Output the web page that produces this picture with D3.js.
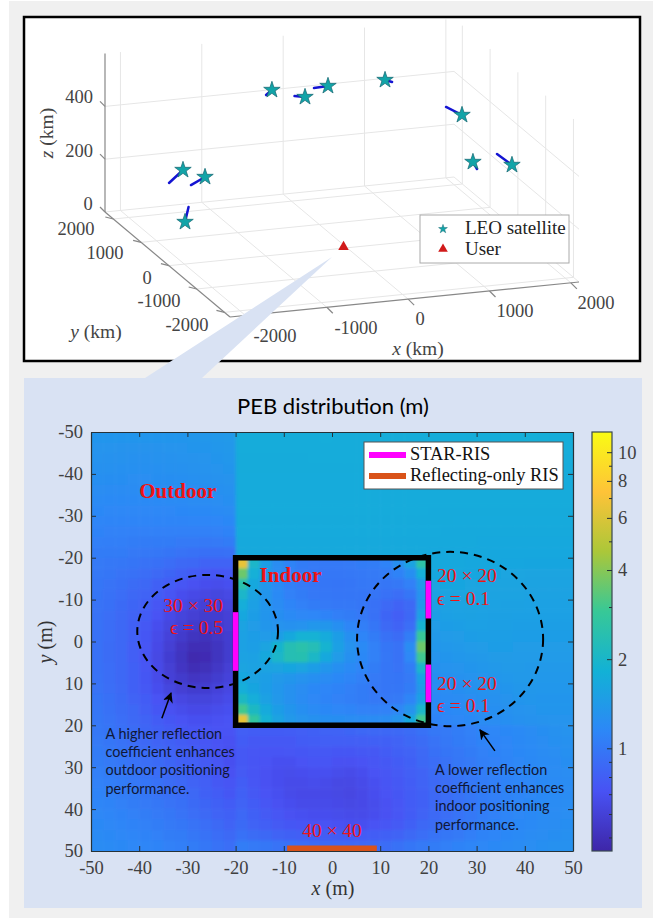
<!DOCTYPE html>
<html>
<head>
<meta charset="utf-8">
<script src="https://cdnjs.cloudflare.com/ajax/libs/d3/7.8.5/d3.min.js"></script>
<style>
body{margin:0;background:#fff;}
svg{display:block;}
.serif{font-family:"Liberation Serif",serif;}
.sans{font-family:Lato,"Open Sans",sans-serif;}
</style>
</head>
<body>
<svg width="670" height="918"></svg>
<script>
// ---- 3D scatter data (km) ----
var satX=[-1820,-1497,-1787,-315,60,353,1161,1618,1814,2100];
var satY=[576,729,599,1782,1689,1720,2033,600,780,213];
var satZ=[300,250,100,450,420,450,420,400,200,230];
var trailX=[-2074,-1722,-1725,-411,-42,173,1212,1547,1801,2044];
var trailY=[335,576,654,1712,1768,1697,1929,968,596,588];
var trailZ=[280,240,150,440,420,450,420,400,190,240];
var userPos=[-40,10,0];
var ticks3dXY=[-2000,-1000,0,1000,2000];
var ticks3dZ=[0,200,400];
var legend3d=["LEO satellite","User"];

// ---- PEB heat map, rows y=-48.75..48.75, columns x=-48.75..48.75, 2.5 m cells ----
var pebRows=[
[1.34,1.34,1.33,1.33,1.33,1.33,1.34,1.34,1.35,1.36,1.38,1.40,1.72,1.72,1.72,1.72,1.72,1.72,1.72,1.73,1.72,1.72,1.72,1.72,1.73,1.73,1.73,1.73,1.73,1.73,1.73,1.74,1.74,1.74,1.75,1.76,1.78,1.76,1.74,1.74],
[1.32,1.32,1.31,1.31,1.31,1.31,1.32,1.32,1.33,1.34,1.36,1.38,1.72,1.72,1.72,1.72,1.72,1.72,1.72,1.72,1.72,1.72,1.72,1.72,1.72,1.73,1.73,1.73,1.73,1.73,1.73,1.73,1.73,1.73,1.74,1.74,1.75,1.74,1.73,1.73],
[1.30,1.29,1.29,1.28,1.28,1.29,1.29,1.30,1.31,1.32,1.34,1.36,1.71,1.71,1.71,1.71,1.71,1.71,1.72,1.72,1.72,1.72,1.72,1.72,1.72,1.72,1.72,1.72,1.72,1.72,1.72,1.72,1.72,1.72,1.72,1.72,1.72,1.72,1.72,1.72],
[1.27,1.27,1.26,1.26,1.26,1.26,1.27,1.28,1.29,1.30,1.32,1.34,1.71,1.71,1.71,1.71,1.71,1.71,1.71,1.71,1.71,1.71,1.71,1.71,1.71,1.71,1.71,1.71,1.71,1.71,1.71,1.71,1.71,1.71,1.71,1.71,1.71,1.71,1.71,1.71],
[1.25,1.24,1.24,1.23,1.23,1.24,1.24,1.25,1.26,1.27,1.29,1.31,1.70,1.70,1.70,1.70,1.70,1.70,1.70,1.70,1.70,1.70,1.70,1.70,1.70,1.70,1.70,1.70,1.70,1.70,1.70,1.70,1.70,1.70,1.70,1.70,1.70,1.70,1.70,1.70],
[1.22,1.21,1.21,1.20,1.21,1.21,1.22,1.22,1.23,1.24,1.26,1.28,1.70,1.70,1.70,1.70,1.70,1.70,1.70,1.70,1.70,1.70,1.70,1.70,1.70,1.70,1.70,1.70,1.70,1.70,1.70,1.70,1.70,1.70,1.70,1.70,1.70,1.70,1.70,1.70],
[1.19,1.18,1.18,1.18,1.18,1.18,1.19,1.19,1.20,1.21,1.23,1.25,1.70,1.70,1.70,1.70,1.70,1.70,1.70,1.70,1.70,1.70,1.70,1.70,1.70,1.70,1.70,1.70,1.70,1.70,1.70,1.70,1.70,1.70,1.70,1.70,1.70,1.70,1.70,1.70],
[1.16,1.15,1.15,1.15,1.15,1.15,1.15,1.16,1.17,1.17,1.19,1.21,1.70,1.70,1.70,1.70,1.70,1.70,1.70,1.70,1.70,1.70,1.70,1.70,1.70,1.70,1.70,1.70,1.69,1.69,1.69,1.69,1.69,1.69,1.69,1.69,1.69,1.69,1.69,1.69],
[1.13,1.12,1.12,1.12,1.12,1.12,1.12,1.12,1.13,1.13,1.14,1.16,1.69,1.69,1.69,1.69,1.69,1.69,1.69,1.69,1.69,1.69,1.69,1.69,1.69,1.69,1.69,1.69,1.69,1.69,1.68,1.68,1.68,1.68,1.68,1.68,1.68,1.68,1.68,1.68],
[1.10,1.09,1.09,1.08,1.08,1.08,1.08,1.08,1.08,1.08,1.09,1.10,1.68,1.68,1.68,1.68,1.68,1.68,1.68,1.68,1.68,1.68,1.68,1.68,1.68,1.68,1.68,1.68,1.68,1.67,1.67,1.67,1.67,1.66,1.66,1.66,1.66,1.66,1.66,1.66],
[1.07,1.06,1.06,1.05,1.04,1.03,1.03,1.02,1.02,1.01,1.02,1.03,1.67,1.67,1.67,1.67,1.67,1.67,1.67,1.67,1.67,1.67,1.67,1.67,1.67,1.67,1.67,1.67,1.66,1.66,1.66,1.66,1.65,1.65,1.65,1.64,1.64,1.64,1.64,1.64],
[1.04,1.03,1.03,1.01,1.00,0.99,0.97,0.96,0.94,0.93,0.93,0.94,1.66,1.66,1.66,1.66,1.66,1.66,1.66,1.66,1.66,1.66,1.66,1.66,1.66,1.66,1.66,1.66,1.65,1.65,1.65,1.64,1.64,1.63,1.63,1.63,1.62,1.62,1.62,1.62],
[1.02,1.00,0.99,0.97,0.95,0.93,0.91,0.88,0.86,0.84,0.83,0.84,6.5,2.0,1.45,1.22,1.10,1.04,1.02,1.01,1.01,1.02,1.03,1.05,1.10,1.25,1.55,2.6,1.66,1.65,1.64,1.63,1.62,1.62,1.61,1.61,1.60,1.60,1.60,1.60],
[1.00,0.98,0.96,0.94,0.91,0.88,0.85,0.81,0.78,0.76,0.75,0.76,3.6,1.8,1.40,1.20,1.08,1.02,1.00,0.99,0.99,1.00,1.01,1.02,1.04,1.10,1.25,1.8,1.62,1.62,1.62,1.61,1.60,1.60,1.59,1.59,1.58,1.58,1.58,1.58],
[0.98,0.96,0.93,0.90,0.86,0.82,0.78,0.74,0.71,0.69,0.68,0.70,2.5,1.65,1.36,1.18,1.06,1.01,0.99,0.98,0.97,0.98,1.00,1.00,0.98,1.00,1.08,1.4,1.58,1.60,1.60,1.59,1.58,1.58,1.57,1.57,1.56,1.56,1.56,1.56],
[0.97,0.94,0.91,0.87,0.83,0.78,0.73,0.69,0.66,0.64,0.63,0.65,2.0,1.55,1.34,1.18,1.08,1.03,1.00,0.99,0.98,0.98,0.98,0.97,0.94,0.92,0.98,1.3,1.54,1.56,1.58,1.57,1.56,1.56,1.55,1.55,1.54,1.54,1.54,1.54],
[0.96,0.93,0.89,0.85,0.80,0.74,0.69,0.65,0.62,0.60,0.60,0.62,1.75,1.5,1.33,1.2,1.12,1.08,1.04,1.02,1.00,1.00,0.98,0.94,0.88,0.84,0.88,1.35,1.50,1.53,1.55,1.55,1.54,1.54,1.53,1.53,1.52,1.52,1.52,1.52],
[0.95,0.92,0.88,0.83,0.78,0.72,0.66,0.62,0.59,0.57,0.58,0.60,1.62,1.46,1.34,1.24,1.18,1.15,1.14,1.10,1.06,1.03,1.00,0.94,0.85,0.80,0.86,1.5,1.47,1.50,1.52,1.53,1.52,1.51,1.51,1.50,1.50,1.50,1.50,1.50],
[0.95,0.91,0.87,0.82,0.76,0.69,0.63,0.59,0.56,0.55,0.56,0.59,1.55,1.44,1.35,1.30,1.28,1.30,1.36,1.35,1.25,1.13,1.06,0.98,0.88,0.83,0.92,1.9,1.44,1.46,1.48,1.50,1.50,1.49,1.49,1.48,1.48,1.48,1.48,1.48],
[0.94,0.91,0.86,0.81,0.75,0.67,0.61,0.56,0.52,0.51,0.54,0.58,1.52,1.46,1.42,1.48,1.65,1.85,1.85,1.70,1.45,1.25,1.12,1.04,0.94,0.90,1.05,2.9,1.40,1.42,1.44,1.46,1.48,1.47,1.47,1.46,1.46,1.46,1.46,1.46],
[0.94,0.90,0.86,0.80,0.74,0.66,0.59,0.53,0.49,0.49,0.52,0.57,1.52,1.48,1.58,1.95,2.35,2.5,2.3,1.9,1.5,1.3,1.18,1.08,0.98,0.95,1.2,3.6,1.36,1.38,1.40,1.42,1.44,1.45,1.45,1.44,1.44,1.44,1.44,1.44],
[0.94,0.90,0.86,0.80,0.73,0.65,0.58,0.52,0.47,0.48,0.52,0.57,1.54,1.52,1.65,2.0,2.35,2.4,2.05,1.65,1.42,1.26,1.16,1.08,0.99,0.95,1.15,3.0,1.32,1.34,1.36,1.38,1.40,1.43,1.43,1.42,1.42,1.42,1.42,1.42],
[0.94,0.91,0.86,0.81,0.74,0.66,0.59,0.53,0.49,0.50,0.54,0.59,1.58,1.54,1.55,1.58,1.6,1.58,1.45,1.35,1.25,1.18,1.12,1.05,0.98,0.96,1.05,2.0,1.28,1.30,1.32,1.34,1.36,1.39,1.41,1.41,1.40,1.40,1.40,1.40],
[0.95,0.91,0.87,0.81,0.75,0.67,0.60,0.56,0.53,0.54,0.57,0.61,1.62,1.55,1.48,1.40,1.35,1.30,1.25,1.2,1.16,1.12,1.07,1.02,0.98,0.97,1.02,1.5,1.24,1.26,1.28,1.30,1.32,1.35,1.38,1.39,1.39,1.38,1.38,1.38],
[0.96,0.92,0.88,0.82,0.76,0.69,0.63,0.59,0.57,0.58,0.61,0.64,1.75,1.6,1.46,1.36,1.28,1.22,1.16,1.13,1.1,1.07,1.04,1.0,0.98,0.98,1.04,1.4,1.20,1.22,1.24,1.27,1.29,1.31,1.34,1.37,1.37,1.36,1.36,1.36],
[0.97,0.93,0.89,0.84,0.78,0.72,0.67,0.64,0.62,0.62,0.64,0.67,2.1,1.75,1.52,1.38,1.28,1.2,1.15,1.11,1.09,1.06,1.03,1.01,1.0,1.02,1.12,1.5,1.17,1.19,1.21,1.23,1.26,1.28,1.31,1.33,1.35,1.34,1.34,1.34],
[0.98,0.94,0.90,0.86,0.80,0.75,0.71,0.68,0.66,0.66,0.68,0.70,3.0,2.1,1.68,1.46,1.34,1.25,1.19,1.16,1.14,1.12,1.09,1.08,1.09,1.15,1.32,2.0,1.14,1.16,1.18,1.20,1.23,1.25,1.28,1.30,1.32,1.33,1.33,1.33],
[0.99,0.96,0.92,0.88,0.83,0.78,0.75,0.72,0.70,0.70,0.71,0.72,6.5,2.7,1.85,1.55,1.4,1.32,1.27,1.25,1.24,1.22,1.2,1.2,1.22,1.32,1.65,3.0,1.10,1.13,1.15,1.17,1.20,1.22,1.25,1.27,1.29,1.31,1.32,1.32],
[1.00,0.97,0.93,0.90,0.85,0.81,0.78,0.75,0.73,0.73,0.72,0.72,0.80,0.79,0.78,0.78,0.79,0.80,0.82,0.83,0.84,0.85,0.86,0.86,0.87,0.88,0.90,0.94,1.00,1.02,1.05,1.08,1.12,1.14,1.16,1.18,1.20,1.24,1.28,1.30],
[1.02,0.98,0.95,0.91,0.87,0.84,0.81,0.78,0.76,0.74,0.72,0.71,0.78,0.76,0.76,0.76,0.76,0.78,0.79,0.80,0.80,0.80,0.80,0.81,0.82,0.84,0.86,0.90,0.96,1.00,1.03,1.06,1.10,1.12,1.14,1.17,1.19,1.22,1.26,1.28],
[1.03,1.00,0.97,0.93,0.90,0.86,0.83,0.80,0.78,0.75,0.72,0.70,0.76,0.74,0.73,0.73,0.74,0.75,0.76,0.76,0.75,0.75,0.76,0.76,0.78,0.81,0.84,0.88,0.93,0.97,1.00,1.04,1.08,1.10,1.13,1.16,1.18,1.20,1.23,1.26],
[1.05,1.02,0.99,0.95,0.92,0.89,0.85,0.82,0.80,0.77,0.74,0.70,0.76,0.73,0.72,0.70,0.70,0.72,0.73,0.73,0.71,0.71,0.72,0.74,0.76,0.78,0.82,0.86,0.91,0.95,0.99,1.02,1.06,1.09,1.12,1.15,1.17,1.19,1.21,1.24],
[1.07,1.04,1.01,0.98,0.94,0.91,0.88,0.85,0.81,0.78,0.75,0.71,0.77,0.73,0.71,0.69,0.68,0.69,0.70,0.70,0.68,0.67,0.69,0.72,0.74,0.77,0.80,0.84,0.89,0.93,0.97,1.01,1.05,1.08,1.11,1.14,1.16,1.18,1.20,1.22],
[1.09,1.06,1.03,1.00,0.97,0.94,0.90,0.87,0.83,0.80,0.76,0.73,0.79,0.74,0.71,0.69,0.67,0.67,0.68,0.67,0.65,0.65,0.67,0.70,0.73,0.76,0.79,0.83,0.88,0.92,0.96,1.00,1.04,1.07,1.10,1.13,1.15,1.17,1.19,1.21],
[1.11,1.08,1.05,1.03,0.99,0.96,0.93,0.90,0.86,0.82,0.78,0.75,0.81,0.76,0.72,0.70,0.67,0.66,0.66,0.66,0.65,0.64,0.66,0.69,0.72,0.75,0.78,0.82,0.87,0.91,0.95,0.99,1.03,1.07,1.10,1.13,1.15,1.17,1.19,1.21],
[1.13,1.11,1.08,1.05,1.02,0.99,0.96,0.93,0.89,0.85,0.81,0.78,0.83,0.78,0.74,0.71,0.69,0.67,0.67,0.67,0.66,0.65,0.66,0.68,0.71,0.74,0.78,0.82,0.87,0.91,0.95,0.99,1.04,1.07,1.11,1.14,1.16,1.18,1.20,1.22],
[1.15,1.13,1.10,1.08,1.05,1.02,0.99,0.96,0.92,0.88,0.84,0.81,0.86,0.81,0.77,0.74,0.71,0.70,0.69,0.69,0.68,0.67,0.67,0.69,0.71,0.74,0.78,0.83,0.88,0.92,0.96,1.00,1.05,1.08,1.12,1.15,1.17,1.19,1.21,1.23],
[1.17,1.15,1.13,1.10,1.08,1.05,1.02,0.99,0.96,0.92,0.88,0.84,0.89,0.84,0.80,0.77,0.75,0.73,0.72,0.72,0.71,0.70,0.70,0.72,0.74,0.77,0.81,0.86,0.90,0.94,0.98,1.02,1.06,1.10,1.13,1.16,1.18,1.20,1.22,1.24],
[1.19,1.17,1.15,1.13,1.10,1.08,1.05,1.03,0.99,0.95,0.91,0.88,0.94,0.90,0.87,0.84,0.82,0.80,0.79,0.79,0.78,0.77,0.78,0.79,0.81,0.84,0.88,0.92,0.96,0.99,1.02,1.06,1.10,1.13,1.16,1.18,1.20,1.22,1.24,1.26],
[1.21,1.19,1.17,1.15,1.13,1.11,1.08,1.06,1.03,0.99,0.95,0.92,1.05,1.02,0.99,0.96,0.94,0.92,0.90,0.89,0.88,0.88,0.88,0.89,0.91,0.94,0.98,1.02,1.04,1.07,1.10,1.13,1.15,1.17,1.19,1.21,1.23,1.25,1.27,1.28]
];
var heatTicks=[-50,-40,-30,-20,-10,0,10,20,30,40,50];
var cbMajor=[1,2,4,6,8,10];
var cbMinor=[0.5,0.6,0.7,0.8,0.9,3,5,7,9];
var parula=["#3e26a8","#4852f4","#2d87f7","#12b1d6","#37c897","#abc739","#fec338","#f9fb14"];
var roomX=[-20,20,20,-20];
var roomY=[-20,-20,20,20];
var starRisLeft=[-7,7];
var starRisRight=[[-14.5,-5.5],[5.5,14.5]];
var reflectRis=[-9.3,9.3];
var noteLeft=["A higher reflection","coefficient enhances","outdoor positioning","performance."];
var noteRight=["A lower reflection","coefficient enhances","indoor positioning","performance."];

var svg=d3.select("svg");

// page panels
svg.append("rect").attr("x",9).attr("y",1).attr("width",644).attr("height",917).attr("fill","#f0f0f0");
svg.append("rect").attr("x",24).attr("y",17).attr("width",616).attr("height",344)
   .attr("fill","#fff").attr("stroke","#000").attr("stroke-width",2.5);
svg.append("rect").attr("x",24).attr("y",378).attr("width",618).attr("height",530).attr("fill","#d9e2f3");

//////////// 3D plot ////////////
var xLim=[-2190,2100], yLim=[-2200,2300], zLim=[0,600];
var floorFront=[230,317];
var xSx=d3.scaleLinear().domain(xLim).range([0,349]);
var xSy=d3.scaleLinear().domain(xLim).range([0,-35]);
var ySx=d3.scaleLinear().domain(yLim).range([0,-125]);
var ySy=d3.scaleLinear().domain(yLim).range([0,-105]);
var zS=d3.scaleLinear().domain(zLim).range([0,-158.4]);
var proj=function(x,y,z)
{
  return [floorFront[0]+xSx(x)+ySx(y),floorFront[1]+xSy(x)+ySy(y)+zS(z)];
};
var line3=d3.line();
var plot3=svg.append("g").classed("plot3",true);

var grid3=[];
ticks3dXY.forEach(function(t){
  grid3.push([proj(t,yLim[0],0),proj(t,yLim[1],0)]);
  grid3.push([proj(xLim[0],t,0),proj(xLim[1],t,0)]);
  grid3.push([proj(t,yLim[1],0),proj(t,yLim[1],600)]);
  grid3.push([proj(xLim[1],t,0),proj(xLim[1],t,600)]);
});
ticks3dZ.forEach(function(t){
  grid3.push([proj(xLim[0],yLim[1],t),proj(xLim[1],yLim[1],t)]);
  grid3.push([proj(xLim[1],yLim[1],t),proj(xLim[1],yLim[0],t)]);
});
plot3.selectAll("path.grid").data(grid3).enter().append("path").classed("grid",true)
     .attr("d",line3).attr("fill","none").attr("stroke","#e6e6e6").attr("stroke-width",1);

var axes3=[
  [proj(xLim[0],yLim[1],0),proj(xLim[0],yLim[1],600)],
  [proj(xLim[0],yLim[1],0),proj(xLim[0],yLim[0],0)],
  [proj(xLim[0],yLim[0],0),proj(xLim[1],yLim[0],0)]
];
ticks3dXY.forEach(function(t){
  var a=proj(t,yLim[0],0);
  axes3.push([a,[a[0]+6,a[1]+6]]);
  var b=proj(xLim[0],t,0);
  axes3.push([b,[b[0]-8,b[1]-2]]);
});
ticks3dZ.forEach(function(t){
  var c=proj(xLim[0],yLim[1],t);
  axes3.push([c,[c[0]-5,c[1]-5]]);
});
plot3.selectAll("path.axis3").data(axes3).enter().append("path").classed("axis3",true)
     .attr("d",line3).attr("fill","none").attr("stroke","#888").attr("stroke-width",1.2);

var label3=function(px,py,txt,anchor)
{
  return plot3.append("text").classed("serif",true).attr("x",px).attr("y",py)
     .attr("text-anchor",anchor||"middle").attr("fill","#444").attr("font-size",18.5).text(txt);
};
var xLabXY=[[275,342],[356,334],[420,325],[515,317],[596,309]];
ticks3dXY.forEach(function(t,i){ label3(xLabXY[i][0],xLabXY[i][1],t); });
var yLabXY=[[187,331],[159,307],[147,284],[105,259],[76,235]];
ticks3dXY.forEach(function(t,i){ label3(yLabXY[i][0],yLabXY[i][1],t); });
var zLabXY=[[88,210],[79,157],[79,103]];
ticks3dZ.forEach(function(t,i){ label3(zLabXY[i][0],zLabXY[i][1],t); });

var axisName3=function(px,py,v,unit,rot)
{
  var t=plot3.append("text").classed("serif",true).attr("fill","#444").attr("font-size",19.5)
     .attr("text-anchor","middle")
     .attr("transform","translate("+px+","+py+")"+(rot?" rotate(-90)":""));
  t.append("tspan").attr("font-style","italic").text(v);
  t.append("tspan").text(" ("+unit+")");
};
axisName3(418,355,"x","km");
axisName3(96,338,"y","km");
axisName3(53,133,"z","km",true);

// satellite tracks + stars
plot3.selectAll("path.trail").data(satX).enter().append("path").classed("trail",true)
     .attr("d",function(d,i){ return line3([proj(satX[i],satY[i],satZ[i]),proj(trailX[i],trailY[i],trailZ[i])]); })
     .attr("stroke","#1414d2").attr("stroke-width",2.5).attr("fill","none").attr("stroke-linecap","round");
plot3.selectAll("path.sat").data(satX).enter().append("path").classed("sat",true)
     .attr("d",d3.symbol().type(d3.symbolStar).size(84))
     .attr("transform",function(d,i){ var p=proj(satX[i],satY[i],satZ[i]); return "translate("+p[0]+","+p[1]+")"; })
     .attr("fill","#12a4a8").attr("stroke","#1d6f78").attr("stroke-width",0.8);
var u=proj(userPos[0],userPos[1],userPos[2]);
plot3.append("path").attr("d",d3.symbol().type(d3.symbolTriangle).size(48))
     .attr("transform","translate("+u[0]+","+(u[1]-1)+")").attr("fill","#d11a1a");

// legend of the 3D plot
var leg3=plot3.append("g").classed("legend",true).attr("transform","translate(420,215)");
leg3.append("rect").attr("width",149).attr("height",48).attr("fill","#fff").attr("stroke","#aaa").attr("stroke-width",1);
leg3.append("path").attr("d",d3.symbol().type(d3.symbolStar).size(24))
    .attr("transform","translate(23,14)").attr("fill","#12a4a8").attr("stroke","#1d6f78").attr("stroke-width",0.5);
leg3.append("path").attr("d",d3.symbol().type(d3.symbolTriangle).size(40))
    .attr("transform","translate(23,34)").attr("fill","#d11a1a");
leg3.selectAll("text").data(legend3d).enter().append("text").classed("serif",true)
    .attr("x",45).attr("y",function(d,i){ return 19+i*21; })
    .attr("font-size",19).attr("fill","#222").text(function(d){ return d; });

// callout from the user down to the heat map
svg.append("polygon").attr("points","332,257 202,378 145,378").attr("fill","#d9e2f3");

//////////// heat map ////////////
var margins={left:91,right:573,top:432,bottom:851};
var xScale=d3.scaleLinear().domain([-50,50]).range([margins.left,margins.right]);
var yScale=d3.scaleLinear().domain([-50,50]).range([margins.top,margins.bottom]);
var cbScale=d3.scaleLog().domain([0.45,11.7]).range([margins.bottom,margins.top]);
var tScale=d3.scaleLog().domain(cbScale.domain()).range([0,1]);
var parulaScale=d3.scaleLinear().domain(parula.map(function(c,i){ return i/(parula.length-1); })).range(parula);
var colorOf=function(v){ return parulaScale(Math.min(1,Math.max(0,tScale(v)))); };

var defs=svg.append("defs");
defs.append("clipPath").attr("id","plotClip").append("rect")
    .attr("x",margins.left).attr("y",margins.top)
    .attr("width",margins.right-margins.left).attr("height",margins.bottom-margins.top);
var soft=defs.append("filter").attr("id","soft").attr("x","-5%").attr("y","-5%").attr("width","110%").attr("height","110%");
soft.append("feGaussianBlur").attr("stdDeviation",1.8);

var heatClip=svg.append("g").attr("clip-path","url(#plotClip)");
var heat=heatClip.append("g").attr("filter","url(#soft)");
var cells=[];
pebRows.forEach(function(row,r){
  row.forEach(function(v,c){ cells.push({r:r,c:c,v:v}); });
});
var cellStep=2.5, pad=12;
heat.selectAll("rect").data(cells).enter().append("rect")
    .attr("x",function(d){ return xScale(-50+d.c*cellStep)-(d.c==0?pad:0); })
    .attr("y",function(d){ return yScale(-50+d.r*cellStep)-(d.r==0?pad:0); })
    .attr("width",function(d){ return xScale(cellStep)-xScale(0)+0.6+(d.c==0||d.c==39?pad:0); })
    .attr("height",function(d){ return yScale(cellStep)-yScale(0)+0.6+(d.r==0||d.r==39?pad:0); })
    .attr("fill",function(d){ return colorOf(d.v); });

// axes, ticks point inward
var xAxis=d3.axisBottom(xScale).tickValues(heatTicks).tickFormat(function(d){ return d; })
            .tickSizeInner(-5).tickSizeOuter(0).tickPadding(10);
var yAxis=d3.axisLeft(yScale).tickValues(heatTicks).tickFormat(function(d){ return d; })
            .tickSizeInner(-5).tickSizeOuter(0).tickPadding(8);
var styleAxis=function(g)
{
  g.selectAll("text").attr("class","serif").attr("font-size",18.5).attr("fill","#404040");
  g.selectAll("line").attr("stroke","#263238");
  g.select(".domain").attr("stroke","#263238").attr("stroke-width",1.2);
};
svg.append("g").attr("transform","translate(0,"+margins.bottom+")").call(xAxis).call(styleAxis);
svg.append("g").attr("transform","translate("+margins.left+",0)").call(yAxis).call(styleAxis);
svg.append("g").attr("transform","translate(0,"+margins.top+")").call(d3.axisTop(xScale).tickValues(heatTicks).tickFormat("").tickSizeInner(-5).tickSizeOuter(0)).call(styleAxis);
svg.append("g").attr("transform","translate("+margins.right+",0)").call(d3.axisRight(yScale).tickValues(heatTicks).tickFormat("").tickSizeInner(-5).tickSizeOuter(0)).call(styleAxis);

svg.append("text").classed("sans",true).attr("x",333).attr("y",414).attr("text-anchor","middle")
   .attr("font-size",22).attr("fill","#000").text("PEB distribution (m)");
var axisName=function(px,py,v,rot)
{
  var t=svg.append("text").classed("serif",true).attr("fill","#333").attr("font-size",20)
     .attr("text-anchor","middle")
     .attr("transform","translate("+px+","+py+")"+(rot?" rotate(-90)":""));
  t.append("tspan").attr("font-style","italic").text(v);
  t.append("tspan").text(" (m)");
};
axisName(333,895,"x");
axisName(52,642,"y",true);

// room walls and RIS panels
var plotG=svg.append("g").attr("clip-path","url(#plotClip)");
var roomPts=roomX.map(function(x,i){ return [xScale(x),yScale(roomY[i])]; });
plotG.append("path").attr("d",d3.line()(roomPts)+"Z").attr("fill","none").attr("stroke","#000").attr("stroke-width",5.5).attr("stroke-linejoin","miter");
plotG.append("line").attr("x1",xScale(-20)).attr("x2",xScale(-20)).attr("y1",yScale(starRisLeft[0])).attr("y2",yScale(starRisLeft[1]))
     .attr("stroke","#ff00ff").attr("stroke-width",5.5);
plotG.selectAll("line.ris").data(starRisRight).enter().append("line").classed("ris",true)
     .attr("x1",xScale(20)).attr("x2",xScale(20))
     .attr("y1",function(d){ return yScale(d[0]); }).attr("y2",function(d){ return yScale(d[1]); })
     .attr("stroke","#ff00ff").attr("stroke-width",5.5);
plotG.append("line").attr("x1",xScale(reflectRis[0])).attr("x2",xScale(reflectRis[1])).attr("y1",yScale(50)).attr("y2",yScale(50))
     .attr("stroke","#d95319").attr("stroke-width",11);

// dashed regions
var dashed=[[-25.8,-2.4,14.6,13.5],[24.5,-0.6,19.3,20.8]];
plotG.selectAll("ellipse").data(dashed).enter().append("ellipse")
     .attr("cx",function(d){ return xScale(d[0]); })
     .attr("cy",function(d){ return yScale(d[1]); })
     .attr("rx",function(d){ return xScale(d[2])-xScale(0); })
     .attr("ry",function(d){ return yScale(d[3])-yScale(0); })
     .attr("fill","none").attr("stroke","#000").attr("stroke-width",2).attr("stroke-dasharray","8 6");

// red labels
var red="#f01414";
var redLabels=[
  {t:"Outdoor",x:-32,y:-35.5,bold:true,a:"middle"},
  {t:"Indoor",x:-8.6,y:-15.3,bold:true,a:"middle"},
  {t:"30 × 30",x:-22.6,y:-8.2,a:"end"},
  {t:"ϵ = 0.5",x:-22.6,y:-2.9,a:"end"},
  {t:"20 × 20",x:21.8,y:-15.3,a:"start"},
  {t:"ϵ = 0.1",x:21.8,y:-10,a:"start"},
  {t:"20 × 20",x:21.8,y:10.4,a:"start"},
  {t:"ϵ = 0.1",x:21.8,y:15.6,a:"start"},
  {t:"40 × 40",x:0,y:45.4,a:"middle"}
];
svg.selectAll("text.red").data(redLabels).enter().append("text").attr("class","red serif")
   .attr("x",function(d){ return xScale(d.x); }).attr("y",function(d){ return yScale(d.y)+5; })
   .attr("text-anchor",function(d){ return d.a; }).attr("fill",red)
   .attr("font-size",function(d){ return d.bold?21:19.5; })
   .attr("font-weight",function(d){ return d.bold?"bold":"normal"; })
   .text(function(d){ return d.t; });

// notes with arrows
var addNote=function(lines,x,y0,step)
{
  svg.selectAll(null).data(lines).enter().append("text").classed("sans",true)
     .attr("x",x).attr("y",function(d,i){ return y0+i*step; })
     .attr("font-size",14.4).attr("fill","#101838").text(function(d){ return d; });
};
addNote(noteLeft,105.5,739,18.2);
addNote(noteRight,435,775,18.2);
defs.append("marker").attr("id","head").attr("viewBox","0 0 10 10").attr("refX",9).attr("refY",5)
    .attr("markerWidth",7).attr("markerHeight",7).attr("orient","auto")
    .append("path").attr("d","M0,0 L10,5 L0,10 L3,5 Z").attr("fill","#000");
var arrows=[[-35.3,18.3,-33.4,12.3],[33.8,26.1,30.7,21.1]];
svg.selectAll("line.arrow").data(arrows).enter().append("line").classed("arrow",true)
   .attr("x1",function(d){ return xScale(d[0]); }).attr("y1",function(d){ return yScale(d[1]); })
   .attr("x2",function(d){ return xScale(d[2]); }).attr("y2",function(d){ return yScale(d[3]); })
   .attr("stroke","#000").attr("stroke-width",1.5).attr("marker-end","url(#head)");

// legend of the heat map
var leg=svg.append("g").classed("legend",true).attr("transform","translate(364,442)");
leg.append("rect").attr("width",199).attr("height",47).attr("fill","#fff").attr("stroke","#555").attr("stroke-width",1);
var legNames=["STAR-RIS","Reflecting-only RIS"];
var legColors=["#ff00ff","#d95319"];
leg.selectAll("line").data(legNames).enter().append("line")
   .attr("x1",5).attr("x2",42).attr("y1",function(d,i){ return 13+i*21; }).attr("y2",function(d,i){ return 13+i*21; })
   .attr("stroke",function(d,i){ return legColors[i]; }).attr("stroke-width",6);
leg.selectAll("text").data(legNames).enter().append("text").classed("serif",true)
   .attr("x",46).attr("y",function(d,i){ return 18+i*21; })
   .attr("font-size",18.4).attr("fill","#111").text(function(d){ return d; });

// colorbar
var cbLeft=592, cbRight=612;
var grad=defs.append("linearGradient").attr("id","cbGrad").attr("x1",0).attr("x2",0).attr("y1",1).attr("y2",0);
grad.selectAll("stop").data(parula).enter().append("stop")
    .attr("offset",function(d,i){ return i/(parula.length-1); }).attr("stop-color",function(d){ return d; });
svg.append("rect").attr("x",cbLeft).attr("y",margins.top).attr("width",cbRight-cbLeft).attr("height",margins.bottom-margins.top)
   .attr("fill","url(#cbGrad)").attr("stroke","#37474f").attr("stroke-width",1.2);
svg.append("g").attr("transform","translate("+cbRight+",0)")
   .call(d3.axisRight(cbScale).tickValues(cbMajor).tickFormat(function(d){ return d; }).tickSizeInner(-5).tickSizeOuter(0).tickPadding(6))
   .call(styleAxis).select(".domain").remove();
svg.append("g").attr("transform","translate("+cbRight+",0)")
   .call(d3.axisRight(cbScale).tickValues(cbMinor).tickFormat("").tickSizeInner(-3).tickSizeOuter(0))
   .call(styleAxis).select(".domain").remove();
</script>
</body>
</html>
